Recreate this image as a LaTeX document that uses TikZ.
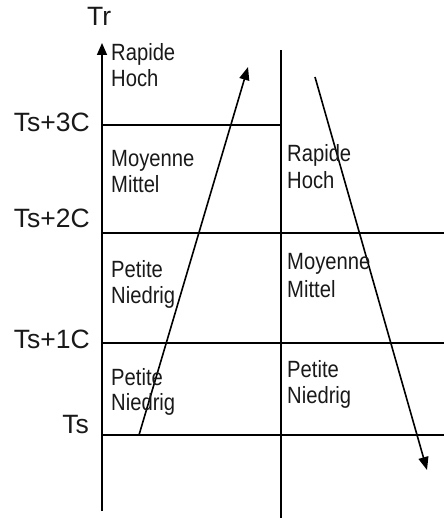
\documentclass[tikz,border=0pt]{standalone}
\usepackage{fontspec}
\setmainfont{Liberation Sans}
\newfontfamily\narrowfont[FakeStretch=0.86]{Liberation Sans}
\usetikzlibrary{arrows.meta}
\begin{document}
\begin{tikzpicture}[x=1pt,y=-1pt,
  gridline/.style={line width=1.6pt, draw=black},
  arr/.style={line width=1.6pt, draw=black, -{Triangle[length=13pt,width=10pt]}},
  lab/.style={font=\fontsize{26.5}{30}\selectfont, inner sep=0pt, anchor=base east, text=black!90},
  cell/.style={font=\narrowfont\fontsize{23.5}{26}\selectfont, inner sep=0pt, anchor=base west, text=black!90}]
\useasboundingbox (0,0) rectangle (444,518);
% coordinates
\coordinate (axB) at (102,511);
\coordinate (axT) at (102,43);
\coordinate (midT) at (281,50);
\coordinate (midB) at (281,518);
\coordinate (h3L) at (102,125); \coordinate (h3R) at (281,125);
\coordinate (h2L) at (102,233); \coordinate (h2R) at (444,233);
\coordinate (h1L) at (102,343); \coordinate (h1R) at (444,343);
\coordinate (h0L) at (102,435); \coordinate (h0R) at (444,435);
\coordinate (upS) at (139,435); \coordinate (upE) at (248,67);
\coordinate (dnS) at (315,77); \coordinate (dnE) at (427,470);
% grid
\draw[arr, -{Triangle[length=12pt,width=10pt]}] (axB) -- (axT);
\draw[gridline] (midT) -- (midB);
\draw[gridline] (h3L) -- (h3R);
\draw[gridline] (h2L) -- (h2R);
\draw[gridline] (h1L) -- (h1R);
\draw[gridline] (h0L) -- (h0R);
% arrows
\draw[arr] (upS) -- (upE);
\draw[arr] (dnS) -- (dnE);
% axis labels
\node[lab, anchor=base west] (tr) at (87,26) {Tr};
\node[lab] (t3) at (90,132) {Ts+3C};
\node[lab] (t2) at (90,227) {Ts+2C};
\node[lab] (t1) at (90,348) {Ts+1C};
\node[lab] (t0) at (89,433) {Ts};
% left column
\node[cell] (l4a) at (111,61) {Rapide};
\node[cell] (l4b) at (111,87) {Hoch};
\node[cell] (l3a) at (111,167) {Moyenne};
\node[cell] (l3b) at (111,193) {Mittel};
\node[cell] (l2a) at (111,277) {Petite};
\node[cell] (l2b) at (111,303) {Niedrig};
\node[cell] (l1a) at (111,385) {Petite};
\node[cell] (l1b) at (111,410) {Niedrig};
% right column
\node[cell] (r3a) at (287,162) {Rapide};
\node[cell] (r3b) at (287,189) {Hoch};
\node[cell] (r2a) at (287,269) {Moyenne};
\node[cell] (r2b) at (287,297) {Mittel};
\node[cell] (r1a) at (287,377) {Petite};
\node[cell] (r1b) at (287,403) {Niedrig};
\end{tikzpicture}
\end{document}
